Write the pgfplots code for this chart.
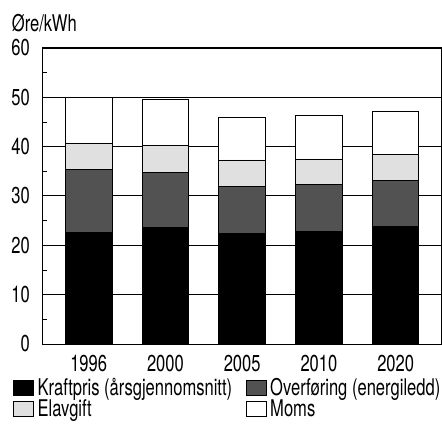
\documentclass[border=0pt]{standalone}
\usepackage{fontspec}
\setmainfont[FakeStretch=0.72]{TeX Gyre Heros}
\usepackage{pgfplots}
\pgfplotsset{compat=1.18}
\definecolor{darkfill}{RGB}{82,82,82}
\definecolor{lightfill}{RGB}{224,224,224}
\begin{document}
\fontsize{23bp}{27bp}\selectfont
\begin{tikzpicture}[font=\fontsize{23bp}{27bp}\selectfont]
\begin{axis}[
  at={(42bp,96bp)}, anchor=south west,
  scale only axis,
  width=399.5bp, height=296bp,
  ybar stacked, bar width=46.5bp,
  xmin=-0.6085, xmax=4.597,
  ymin=0, ymax=60,
  xtick={0,1,2,3,4},
  xticklabels={1996,2000,2005,2010,2020},
  ytick={0,10,...,60},
  minor ytick={5,15,...,55},
  major tick length=0pt,
  minor tick length=5bp,
  tick align=inside,
  ytick pos=left,
  xtick style={draw=none},
  minor tick style={black, line width=0.8bp},
  ymajorgrids,
  grid style={black, line width=1bp},
  axis line style={black, line width=0.9bp},
  /pgf/number format/assume math mode=true,
  yticklabel style={inner sep=0pt, anchor=east, xshift=-12bp},
  xticklabel style={inner sep=0pt, anchor=north, yshift=-11bp},
  legend columns=2,
  legend style={draw=none, fill=none, inner sep=0pt, outer sep=0pt,
    at={(axis description cs:-0.0725,-0.1166)}, anchor=north west,
    nodes={inner sep=0pt, anchor=base west, text height=16.5bp, text depth=4bp},
    row sep=1.2bp,
    /tikz/every odd column/.append style={column sep=3.7bp},
  },
  legend image code/.code={\draw[#1, line width=0.9bp] (0bp,0bp) rectangle (20bp,15bp);},
]
\addplot+[fill=black, draw=black, line width=0.9bp] coordinates {(0,22.6) (1,23.7) (2,22.35) (3,22.8) (4,23.9)};
\addlegendentry{\makebox[208bp][l]{Kraftpris (årsgjennomsnitt)}}
\addplot+[fill=darkfill, draw=black, line width=0.9bp] coordinates {(0,12.7) (1,11.15) (2,9.65) (3,9.6) (4,9.2)};
\addlegendentry{\makebox[170bp][l]{Overføring (energiledd)}}
\addplot+[fill=lightfill, draw=black, line width=0.9bp] coordinates {(0,5.35) (1,5.4) (2,5.3) (3,5.1) (4,5.4)};
\addlegendentry{\makebox[208bp][l]{Elavgift}}
\addplot+[fill=white, draw=black, line width=0.9bp] coordinates {(0,9.4) (1,9.25) (2,8.7) (3,8.85) (4,8.7)};
\addlegendentry{\makebox[170bp][l]{Moms}}
\end{axis}
\node[anchor=base west, inner sep=0pt] at (11.7bp,408.3bp) {Øre/kWh};
\pgfresetboundingbox
\useasboundingbox (0,0) rectangle (442bp,440bp);
\end{tikzpicture}
\end{document}
